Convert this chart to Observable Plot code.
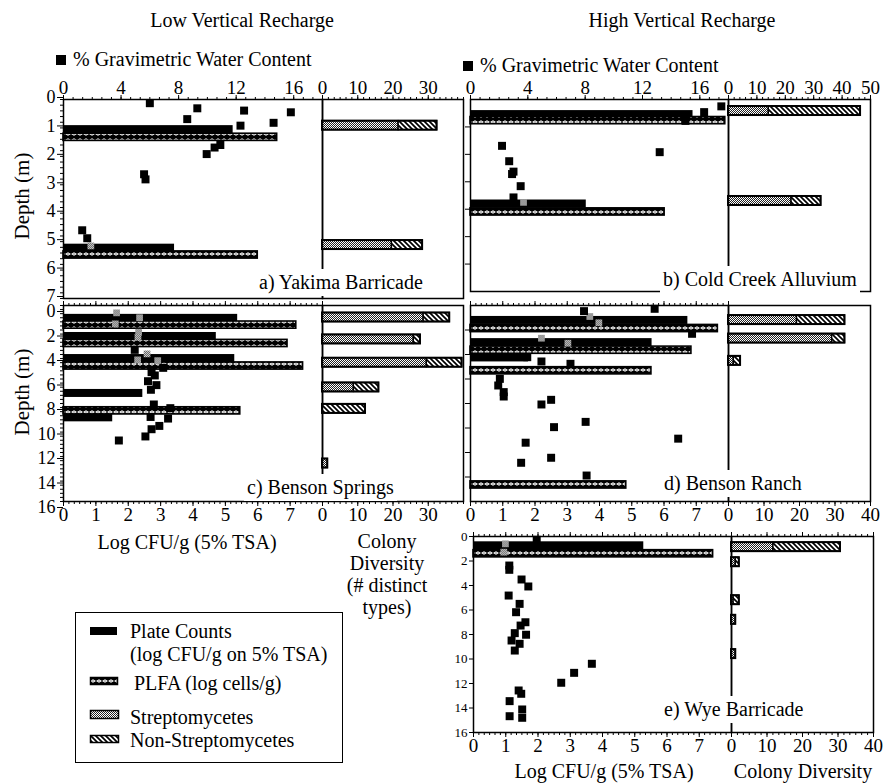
<!DOCTYPE html>
<html><head><meta charset="utf-8">
<script src="https://cdn.jsdelivr.net/npm/d3@7"></script>
<script src="https://cdn.jsdelivr.net/npm/@observablehq/plot@0.6"></script>
<style>
body{margin:0;background:#fff;}
#root{position:relative;width:884px;height:784px;overflow:hidden;background:#fff;font-family:"Liberation Serif","DejaVu Serif",serif;color:#000;}
.t{position:absolute;white-space:nowrap;line-height:1;font-family:"Liberation Serif","DejaVu Serif",serif;}
</style></head><body><div id="root"></div>
<script>
// ---------------- DATA ----------------
// bars: [depth (m), value]; water / gray squares: [depth (m), value]; diversity: [depth (m), streptomycetes, non-streptomycetes]
// a) Yakima Barricade
const aPlate = [[1.06, 5.24], [5.23, 3.43]];
const aPlfa  = [[1.33, 6.6], [5.47, 6.0]];
const aWater = [[0.13,6.0],[0.31,9.3],[0.39,12.55],[0.45,15.8],[0.69,8.6],[0.82,14.6],[0.92,12.3],[1.6,10.9],[1.69,10.5],[1.92,9.95],[2.63,5.6],[2.81,5.7],[4.6,1.3],[4.88,1.65]];
const aGray  = [[5.15,1.9]];
const aDiv   = [[0.92,21.6,10.9],[5.12,19.7,8.7]];
// b) Cold Creek Alluvium
const bPlate = [[0.55,6.9],[3.81,3.59]];
const bPlfa  = [[0.77,7.9],[4.1,6.02]];
const bWater = [[0.25,17.5],[0.46,16.3],[0.78,15.0],[1.69,2.2],[1.92,13.2],[2.25,2.7],[2.63,3.0],[2.72,2.9],[3.16,3.5],[3.57,3.0]];
const bGray  = [[3.75,3.7]];
const bDiv   = [[0.42,14.2,32.3],[3.7,22.2,10.4]];
// c) Benson Springs
const cPlate = [[1.05,5.38],[2.53,4.72],[4.33,5.29],[7.18,2.45],[9.17,1.52]];
const cPlfa  = [[1.6,7.19],[3.1,6.92],[4.94,7.4],[8.6,5.46]];
const cWater = [[3.62,2.2],[5.09,3.08],[5.44,2.72],[5.71,2.82],[6.18,2.61],[6.5,2.87],[6.88,2.7],[8.08,2.79],[8.38,3.3],[9.1,2.69],[9.23,3.23],[9.83,2.96],[10.1,2.72],[10.69,2.53],[11.02,1.71]];
const cGray  = [[0.6,1.64],[1.0,2.35],[1.5,1.6],[2.18,2.32],[2.59,2.3],[3.95,2.58],[4.44,2.29],[4.5,2.91]];
const cDiv   = [[0.98,28.7,7.4],[2.77,25.9,1.9],[4.67,29.6,10.0],[6.69,8.9,7.1],[8.44,0,12.2],[12.9,1.5,0]];
// d) Benson Ranch
const dPlate = [[1.22,6.74],[3.03,5.63],[4.28,1.8]];
const dPlfa  = [[1.88,7.67],[3.65,6.85],[5.33,5.61],[14.65,4.83]];
const dWater = [[0.27,5.71],[0.46,3.52],[2.31,6.87],[4.22,1.76],[4.57,2.2],[4.76,3.1],[5.99,0.91],[6.53,0.86],[7.07,1.03],[7.43,1.03],[7.7,2.5],[8.08,2.2],[9.5,3.57],[9.93,2.59],[10.87,6.44],[11.2,1.71],[12.43,2.5],[12.84,1.57],[13.88,3.6]];
const dGray  = [[0.9,3.7],[1.41,3.98],[2.67,2.2],[3.08,3.02]];
const dDiv   = [[1.19,19.3,13.5],[2.7,29.2,3.6],[4.52,1.5,1.9]];
// e) Wye Barricade
const ePlate = [[0.76,5.28]];
const ePlfa  = [[1.41,7.43]];
const eWater = [[0.27,1.96],[2.37,1.11],[2.72,1.11],[3.51,1.49],[4.08,1.7],[4.82,1.09],[5.5,1.43],[6.18,1.32],[7.0,1.61],[7.27,1.46],[7.89,1.28],[8.02,1.63],[8.49,1.18],[8.76,1.43],[9.31,1.28],[10.39,3.67],[11.13,3.12],[11.94,2.72],[12.57,1.4],[12.84,1.48],[13.44,1.12],[14.12,1.51],[14.67,1.12],[14.8,1.51]];
const eGray  = [[0.6,0.99],[1.28,0.94]];
const eDiv   = [[0.87,11.8,18.9],[2.1,1.2,1.0],[5.2,0.6,1.6],[6.8,1.2,0],[9.6,1.2,0]];
// tick labels
const depthTicks7 = [0,1,2,3,4,5,6,7];
const depthTicks16 = [0,2,4,6,8,10,12,14,16];
const waterTicks = [0,4,8,12,16];
const logTicks = [0,1,2,3,4,5,6,7];
const divTicks30 = [0,10,20,30];
const divTicks40 = [0,10,20,30,40];
const divTicks50 = [0,10,20,30,40,50];

// ---------------- SETUP ----------------
const root = document.getElementById("root");
const FONT = '"Liberation Serif","DejaVu Serif",serif';
root.insertAdjacentHTML("beforeend", `<svg width="1" height="1" style="position:absolute;left:0;top:0"><defs>
<pattern id="pPlfa" patternUnits="userSpaceOnUse" width="6" height="6"><rect width="6" height="6" fill="#000"/><path d="M0,3L3,1.2L6,3L3,4.8Z" fill="#fff"/><rect x="2.5" y="2.5" width="1" height="1" fill="#000"/></pattern>
<pattern id="pStrep" patternUnits="userSpaceOnUse" width="2" height="2"><rect width="2" height="2" fill="#fff"/><rect width="1" height="1" fill="#222"/><rect x="1" y="1" width="1" height="1" fill="#222"/></pattern>
<pattern id="pGray" patternUnits="userSpaceOnUse" width="2" height="2"><rect width="2" height="2" fill="#ddd"/><rect width="1" height="1" fill="#555"/><rect x="1" y="1" width="1" height="1" fill="#555"/></pattern>
<pattern id="pHatch" patternUnits="userSpaceOnUse" width="5" height="5"><rect width="5" height="5" fill="#fff"/><path d="M-1,-1L6,6M-1,4L1,6M4,-1L6,1" stroke="#000" stroke-width="1.7"/></pattern>
</defs></svg>`);

function addText(txt, x, y, css = {}) {
  const d = document.createElement("div");
  d.className = "t";
  d.textContent = txt;
  Object.assign(d.style, {left: x + "px", top: y + "px", fontSize: "20px"}, css);
  root.appendChild(d);
  return d;
}
const range = (max, step) => d3.range(0, Math.round(max / step) + 1).map(i => +(i * step).toFixed(4));

const MG = 40;
function layer(p, xDomain, x0, x1, marks) {
  const W = x1 - x0, H = p.B - p.T;
  const svg = Plot.plot({
    width: W + 2 * MG, height: H + 2 * MG,
    marginLeft: MG, marginRight: MG, marginTop: MG, marginBottom: MG,
    x: {domain: xDomain, range: [MG, MG + W], axis: null},
    y: {domain: [0, p.depthMax], range: [MG, MG + H], axis: null},
    style: {background: "transparent", overflow: "visible", fontFamily: FONT, fontSize: "19px", color: "#000", maxWidth: "none"},
    marks
  });
  svg.style.position = "absolute";
  svg.style.left = (x0 - MG) + "px";
  svg.style.top = (p.T - MG) + "px";
  root.appendChild(svg);
}
function axX(anchor, ticks, size, labelled, extra = {}) {
  return Plot.axisX({anchor, ticks, tickSize: size, tickPadding: 1, label: null,
    tickFormat: labelled ? (d => String(d)) : (() => ""), ...extra});
}
function axY(anchor, ticks, size, labelled, extra = {}) {
  return Plot.axisY({anchor, ticks, tickSize: size, tickPadding: 2, label: null,
    tickFormat: labelled ? (d => String(d)) : (() => ""), ...extra});
}

function panel(p) {
  const k = p.depthMax / (p.B - p.T); // metres per pixel (bar thickness)
  // main: log CFU scale
  layer(p, [0, 8], p.L, p.M, [
    Plot.rect(p.plate, {x1: () => 0, x2: d => d[1], y1: d => d[0] - 4 * k, y2: d => d[0] + 4 * k, fill: "#000"}),
    Plot.rect(p.plfa, {x1: () => 0, x2: d => d[1], y1: d => d[0] - 3.6 * k, y2: d => d[0] + 3.6 * k,
      fill: "url(#pPlfa)", stroke: "#000", strokeWidth: 1.6}),
    Plot.frame({stroke: "#000", strokeWidth: 1.5}),
    ...p.mainAxes
  ]);
  // diversity
  const dk = 4.5 * k;
  layer(p, [0, p.divMax], p.M, p.R, [
    Plot.rect(p.div.filter(d => d[1] > 0), {x1: () => 0, x2: d => d[1], y1: d => d[0] - dk, y2: d => d[0] + dk,
      fill: "url(#pStrep)", stroke: "#000", strokeWidth: 1.4}),
    Plot.rect(p.div.filter(d => d[2] > 0), {x1: d => d[1], x2: d => d[1] + d[2], y1: d => d[0] - dk, y2: d => d[0] + dk,
      fill: "url(#pHatch)", stroke: "#000", strokeWidth: 1.4}),
    Plot.rect(p.div, {x1: () => 0, x2: d => d[1] + d[2], y1: d => d[0] - dk, y2: d => d[0] + dk,
      fill: "none", stroke: "#000", strokeWidth: 2}),
    Plot.frame({stroke: "#000", strokeWidth: 1.5}),
    ...p.divAxes
  ]);
  // water content squares
  layer(p, [0, p.wMax], p.L, p.M, [
    Plot.dot(p.gray, {x: d => d[1], y: d => d[0], symbol: "square", r: 3.8, fill: "url(#pGray)", stroke: "none"}),
    Plot.dot(p.water, {x: d => d[1], y: d => d[0], symbol: "square", r: 4.5, fill: "#000", stroke: "none"}),
    ...p.waterAxes
  ]);
  // panel label with white box
  addText(p.label, p.labelX, p.labelY, {background: "#fff", padding: "3px 3px 4px 3px"});
}

const logMinor = range(8, 1 / 6);
const divMinor40 = range(40, 10 / 6);

panel({L: 63, M: 322, R: 463, T: 99, B: 298, depthMax: 7, wMax: 18, divMax: 40,
  plate: aPlate, plfa: aPlfa, water: aWater, gray: aGray, div: aDiv,
  label: "a) Yakima Barricade", labelX: 256, labelY: 269,
  mainAxes: [axY("left", depthTicks7, 6, true, {fontSize: 18, dy: -2}), axY("left", range(7, 0.2), 3, false)],
  divAxes: [axX("top", divTicks30, 5, true), axX("top", divMinor40, 3, false)],
  waterAxes: [axX("top", waterTicks, 5, true), axX("top", range(18, 2 / 3), 3, false)]
});
panel({L: 470, M: 728, R: 870, T: 99, B: 291, depthMax: 7, wMax: 18, divMax: 50,
  plate: bPlate, plfa: bPlfa, water: bWater, gray: bGray, div: bDiv,
  label: "b) Cold Creek Alluvium", labelX: 660, labelY: 266,
  mainAxes: [axY("left", [1,2,3,4,5,6], 5, false)],
  divAxes: [axX("top", divTicks50, 5, true), axX("top", range(50, 2), 3, false)],
  waterAxes: [axX("top", waterTicks, 5, true), axX("top", range(18, 2 / 3), 3, false)]
});
panel({L: 63, M: 322, R: 463, T: 305, B: 501, depthMax: 16, wMax: 8, divMax: 40,
  plate: cPlate, plfa: cPlfa, water: cWater, gray: cGray, div: cDiv,
  label: "c) Benson Springs", labelX: 244, labelY: 474,
  mainAxes: [axY("left", depthTicks16, 6, true, {fontSize: 18, dy: 6}), axY("left", range(16, 1 / 3), 3, false),
    axX("top", logTicks.concat([8]), 5, false), axX("top", logMinor, 3, false),
    axX("bottom", logTicks, 5, true), axX("bottom", logMinor, 3, false)],
  divAxes: [axX("bottom", divTicks30, 5, true), axX("bottom", divMinor40, 3, false)],
  waterAxes: []
});
panel({L: 470, M: 728, R: 870, T: 305, B: 501, depthMax: 16, wMax: 8, divMax: 40,
  plate: dPlate, plfa: dPlfa, water: dWater, gray: dGray, div: dDiv,
  label: "d) Benson Ranch", labelX: 661, labelY: 470,
  mainAxes: [axY("left", depthTicks16.slice(1, 8), 5, false),
    axX("top", logTicks.concat([8]), 5, false), axX("top", logMinor, 3, false),
    axX("bottom", logTicks, 5, true), axX("bottom", logMinor, 3, false)],
  divAxes: [axX("bottom", divTicks40, 5, true), axX("bottom", divMinor40, 3, false)],
  waterAxes: []
});
panel({L: 473, M: 731, R: 873, T: 536, B: 732, depthMax: 16, wMax: 8, divMax: 40,
  plate: ePlate, plfa: ePlfa, water: eWater, gray: eGray, div: eDiv,
  label: "e) Wye Barricade", labelX: 661, labelY: 696,
  mainAxes: [axY("left", depthTicks16, 4, true, {fontSize: 13}),
    axX("top", logTicks, 5, false), axX("top", logMinor, 3, false),
    axX("bottom", logTicks, 5, true), axX("bottom", logMinor, 3, false)],
  divAxes: [axX("top", divTicks40, 5, false), axX("top", divMinor40, 3, false),
    axX("bottom", divTicks40, 5, true), axX("bottom", divMinor40, 3, false)],
  waterAxes: []
});

// ---------------- TEXT ----------------
addText("Low Vertical Recharge", 242, 20, {transform: "translate(-50%,-50%)"});
addText("High Vertical Recharge", 682, 20, {transform: "translate(-50%,-50%)"});
function waterKey(x, y) {
  const s = document.createElement("div");
  Object.assign(s.style, {position: "absolute", left: x + "px", top: (y - 5) + "px", width: "10px", height: "10px", background: "#000"});
  root.appendChild(s);
  addText("% Gravimetric Water Content", x + 17, y, {transform: "translateY(-55%)"});
}
waterKey(56, 60);
waterKey(463, 66);
addText("Depth (m)", 22, 196, {transform: "translate(-50%,-50%) rotate(-90deg)", fontSize: "21px"});
addText("Depth (m)", 22, 392, {transform: "translate(-50%,-50%) rotate(-90deg)", fontSize: "21px"});
addText("Log CFU/g (5% TSA)", 187, 542, {transform: "translate(-50%,-50%)"});
[["Colony", 541], ["Diversity", 563], ["(# distinct", 585], ["types)", 607]].forEach(([t, y]) =>
  addText(t, 387, y, {transform: "translate(-50%,-50%)"}));
addText("Log CFU/g (5% TSA)", 604, 771, {transform: "translate(-50%,-50%)"});
addText("Colony Diversity", 803, 771, {transform: "translate(-50%,-50%)"});

// legend
const lg = document.createElement("div");
Object.assign(lg.style, {position: "absolute", left: "75px", top: "612px", width: "266px", height: "149px", border: "1.5px solid #000"});
root.appendChild(lg);
root.insertAdjacentHTML("beforeend", `<svg width="884" height="784" style="position:absolute;left:0;top:0;pointer-events:none">
<rect x="90" y="627" width="27" height="8" fill="#000"/>
<rect x="90.5" y="677.5" width="27" height="7" fill="url(#pPlfa)" stroke="#000" stroke-width="1.5"/>
<rect x="90.5" y="710.5" width="28" height="8" fill="url(#pStrep)" stroke="#000" stroke-width="1.5"/>
<rect x="90.5" y="735.5" width="28" height="7" fill="url(#pHatch)" stroke="#000" stroke-width="1.5"/>
</svg>`);
addText("Plate Counts", 130, 631, {transform: "translateY(-50%)"});
addText("(log CFU/g on 5% TSA)", 130, 654, {transform: "translateY(-50%)"});
addText("PLFA (log cells/g)", 134, 683, {transform: "translateY(-50%)"});
addText("Streptomycetes", 130, 717, {transform: "translateY(-50%)"});
addText("Non-Streptomycetes", 130, 740, {transform: "translateY(-50%)"});
</script></body></html>
